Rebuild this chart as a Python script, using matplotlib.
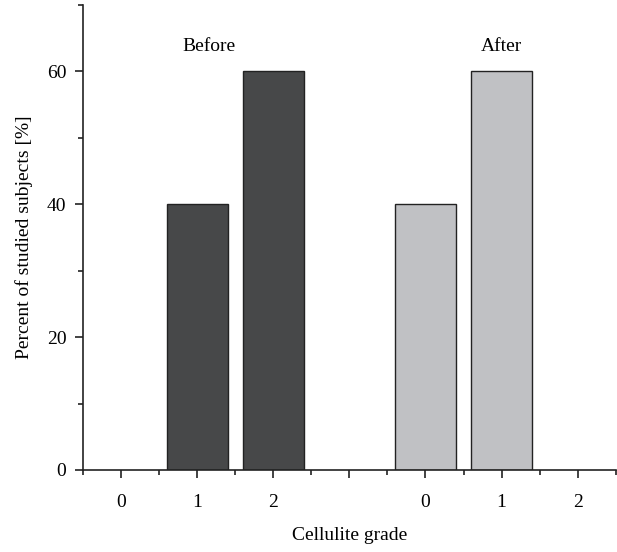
import matplotlib
matplotlib.use("Agg")
import matplotlib.pyplot as plt
from matplotlib.ticker import FixedLocator

plt.rcParams['font.family'] = ['Liberation Serif', 'DejaVu Serif']

grades = ["0", "1", "2"]
before = [0, 40, 60]
after = [40, 60, 0]
groups = ["Before", "After"]
ylabel = "Percent of studied subjects [%]"
xlabel = "Cellulite grade"

dark = "#474849"
light = "#c0c1c4"
FS = 14

fig = plt.figure(figsize=(6.17, 5.52), dpi=100)
ax = fig.add_axes([0.1345, 0.1486, 0.8635, 0.8424])

pos_before = [0, 1, 2]
pos_after = [4, 5, 6]
ax.bar([p for p, v in zip(pos_before, before) if v > 0],
       [v for v in before if v > 0], width=0.8, color=dark, edgecolor="#222222", linewidth=1.0)
ax.bar([p for p, v in zip(pos_after, after) if v > 0],
       [v for v in after if v > 0], width=0.8, color=light, edgecolor="#222222", linewidth=1.0)

ax.set_xlim(-0.5, 6.5)
ax.set_ylim(0, 70)
ax.set_xticks([0, 1, 2, 3, 4, 5, 6])
ax.set_xticklabels(grades + [""] + grades)
ax.xaxis.set_minor_locator(FixedLocator([-0.5, 0.5, 1.5, 2.5, 3.5, 4.5, 5.5, 6.5]))
ax.set_yticks([0, 20, 40, 60])
ax.yaxis.set_minor_locator(FixedLocator([10, 30, 50, 70]))

for s in ["top", "right"]:
    ax.spines[s].set_visible(False)
for s in ["left", "bottom"]:
    ax.spines[s].set_linewidth(1.2)
    ax.spines[s].set_color("#222222")

ax.tick_params(axis="both", which="major", direction="out", length=6, width=1.2,
               color="#222222", labelsize=FS)
ax.tick_params(axis="x", which="major", pad=11)
ax.tick_params(axis="y", which="major", pad=6)
ax.tick_params(axis="both", which="minor", direction="out", length=3.5, width=1.2, color="#222222")

ax.text(1.16, 63.8, groups[0], ha="center", va="center", fontsize=FS)
ax.text(5.0, 63.8, groups[1], ha="center", va="center", fontsize=FS)

ax.set_ylabel(ylabel, fontsize=FS, labelpad=10)
ax.set_xlabel(xlabel, fontsize=FS, labelpad=12)

fig.savefig("out.png", dpi=100)
